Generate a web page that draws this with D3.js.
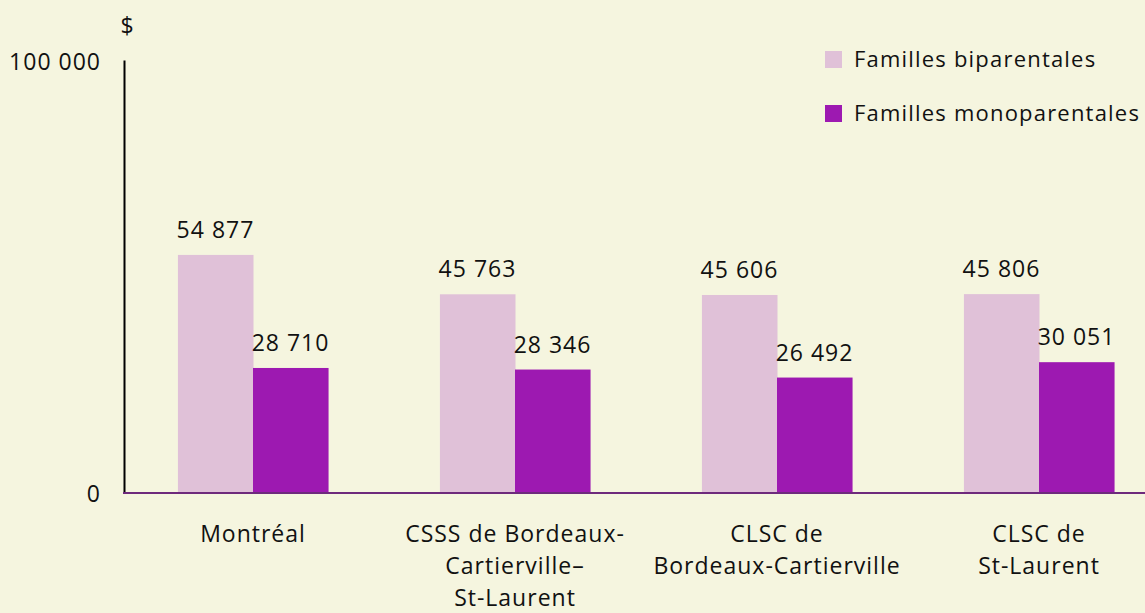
<!DOCTYPE html>
<html>
<head>
<meta charset="utf-8">
<script src="https://d3js.org/d3.v7.min.js"></script>
<style>
  body { margin: 0; background: #f5f5df; }
  svg { display: block; font-family: 'Open Sans', 'Noto Sans', sans-serif; }
</style>
</head>
<body>
<div id="holder"></div>
<script>
  // Data
  const categories = [
    ['Montréal'],
    ['CSSS de Bordeaux-', 'Cartierville–', 'St-Laurent'],
    ['CLSC de', 'Bordeaux-Cartierville'],
    ['CLSC de', 'St-Laurent']
  ];
  const seriesNames = ['Familles biparentales', 'Familles monoparentales'];
  const biparentales = [54877, 45763, 45606, 45806];
  const monoparentales = [28710, 28346, 26492, 30051];
  const yTicks = [0, 100000];

  const w = 1145;
  const h = 613;
  const colors = ['#e0c1d8', '#9d19b1'];
  const fmt = (v) => d3.format(',')(v).replace(/,/g, ' ');

  const svg = d3.select('#holder').append('svg')
    .attr('width', w)
    .attr('height', h);

  svg.append('rect').attr('width', w).attr('height', h).attr('fill', '#f5f5df');

  const x0 = d3.scaleBand()
    .domain(d3.range(categories.length))
    .range([122, 1170])
    .paddingInner(0.427)
    .paddingOuter(0.2135);

  const x1 = d3.scaleBand()
    .domain([0, 1])
    .range([0, x0.bandwidth()]);

  const y = d3.scaleLinear()
    .domain([0, 100000])
    .range([492, 60]);

  const rows = categories.map((c, i) => ({
    i: i,
    values: [biparentales[i], monoparentales[i]]
  }));

  // Bars
  const groups = svg.selectAll('g.grp')
    .data(rows)
    .enter()
    .append('g')
    .attr('class', 'grp')
    .attr('transform', (d) => 'translate(' + x0(d.i) + ',0)');

  groups.selectAll('rect')
    .data((d) => d.values.map((v, k) => ({ k: k, v: v })))
    .enter()
    .append('rect')
    .attr('x', (d) => x1(d.k))
    .attr('y', (d) => y(d.v))
    .attr('width', x1.bandwidth() + 0.5)
    .attr('height', (d) => y(0) - y(d.v))
    .attr('fill', (d) => colors[d.k]);

  groups.selectAll('text.val')
    .data((d) => d.values.map((v, k) => ({ k: k, v: v })))
    .enter()
    .append('text')
    .attr('class', 'val')
    .attr('x', (d) => x1(d.k) + x1.bandwidth() / 2)
    .attr('y', (d) => y(d.v) - 17)
    .attr('text-anchor', 'middle')
    .style('font-size', '23px')
    .style('letter-spacing', '1px')
    .attr('fill', '#111')
    .text((d) => fmt(d.v));

  // Y axis
  const yAxis = d3.axisLeft(y).tickValues(yTicks).tickSize(0).tickPadding(23).tickFormat(fmt);
  const ya = svg.append('g')
    .attr('transform', 'translate(124,0)')
    .call(yAxis);
  ya.select('.domain').attr('stroke', '#000').attr('stroke-width', 2);
  ya.selectAll('text')
    .attr('dy', '0.42em')
    .style('font-size', '23px')
    .style('letter-spacing', '1px')
    .attr('fill', '#111')
    .attr('font-family', "'Open Sans', 'Noto Sans', sans-serif");

  // Baseline
  svg.append('line')
    .attr('x1', 123).attr('x2', w)
    .attr('y1', y(0) + 1).attr('y2', y(0) + 1)
    .attr('stroke', '#6e2a7c')
    .attr('stroke-width', 2);

  // Unit label
  svg.append('text')
    .attr('x', 127).attr('y', 34)
    .attr('text-anchor', 'middle')
    .style('font-size', '23px')
    .attr('fill', '#111')
    .text('$');

  // Category labels
  const catLabels = svg.selectAll('text.cat')
    .data(rows)
    .enter()
    .append('text')
    .attr('class', 'cat')
    .attr('text-anchor', 'middle')
    .style('font-size', '23px')
    .style('letter-spacing', '1px')
    .attr('fill', '#111')
    .attr('x', (d) => x0(d.i) + x0.bandwidth() / 2)
    .attr('y', 542);
  catLabels.selectAll('tspan')
    .data((d) => categories[d.i].map((t) => ({ t: t, x: x0(d.i) + x0.bandwidth() / 2 })))
    .enter()
    .append('tspan')
    .attr('x', (d) => d.x)
    .attr('dy', (d, k) => (k === 0 ? 0 : 32))
    .text((d) => d.t);

  // Legend
  const legend = svg.selectAll('g.leg')
    .data(seriesNames)
    .enter()
    .append('g')
    .attr('class', 'leg')
    .attr('transform', (d, k) => 'translate(825,' + (51 + k * 54) + ')');
  legend.append('rect')
    .attr('width', 17).attr('height', 17)
    .attr('fill', (d, k) => colors[k]);
  legend.append('text')
    .attr('x', 29).attr('y', 16)
    .style('font-size', '22px')
    .style('letter-spacing', '1.2px')
    .attr('fill', '#111')
    .text((d) => d);
</script>
</body>
</html>
